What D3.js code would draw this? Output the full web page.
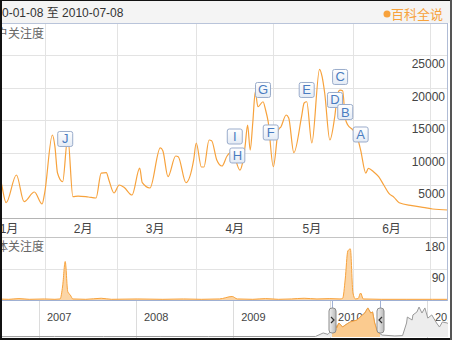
<!DOCTYPE html>
<html lang="zh">
<head>
<meta charset="UTF-8">
<title>百科关注度</title>
<script src="https://cdn.jsdelivr.net/npm/d3@7"></script>
<style>
  body { margin: 0; overflow: hidden; background: #fff; }
  text { font-family: "Liberation Sans", Arial, "Noto Sans CJK SC", sans-serif; }
</style>
</head>
<body>
<svg width="452" height="340"></svg>
<script>
// 用户关注度 (daily points)
const userDates = ["2010-01-08","2010-01-11","2010-01-15","2010-01-17","2010-01-21","2010-01-24","2010-01-28","2010-01-31",
  "2010-02-01","2010-02-04","2010-02-05","2010-02-06","2010-02-08","2010-02-10","2010-02-12","2010-02-14","2010-02-18",
  "2010-02-21","2010-02-23","2010-02-25","2010-02-26","2010-02-28","2010-03-02","2010-03-04","2010-03-07","2010-03-10",
  "2010-03-11","2010-03-14","2010-03-18","2010-03-19","2010-03-21","2010-03-24","2010-03-25","2010-03-28","2010-03-31",
  "2010-04-01","2010-04-03","2010-04-04","2010-04-06","2010-04-07","2010-04-09","2010-04-11","2010-04-13","2010-04-15",
  "2010-04-18","2010-04-19","2010-04-20","2010-04-21","2010-04-22","2010-04-23","2010-04-24","2010-04-25","2010-04-27",
  "2010-04-28","2010-04-29","2010-05-01","2010-05-03","2010-05-04","2010-05-06","2010-05-07","2010-05-09","2010-05-12",
  "2010-05-13","2010-05-14","2010-05-16","2010-05-19","2010-05-20","2010-05-21","2010-05-23","2010-05-25","2010-05-26",
  "2010-05-27","2010-05-28","2010-05-29","2010-05-30","2010-06-01","2010-06-03","2010-06-04","2010-06-06","2010-06-07",
  "2010-06-09","2010-06-11","2010-06-13","2010-06-15","2010-06-17","2010-06-19","2010-06-24","2010-06-29","2010-07-02",
  "2010-07-08"];
const userValues = [4500,8800,5500,2280,6540,2430,3920,2080,
  3770,12690,10900,6840,5500,12380,3200,3300,3150,
  3000,6840,6900,5770,3770,5000,4600,3460,7600,
  5350,4540,10700,10270,6280,9460,9350,5350,8850,
  11460,7770,7770,11920,11820,8850,7920,9460,10120,
  7300,8380,10900,14230,10380,14540,19350,17040,17810,
  16540,14740,7820,13460,13970,15770,15310,9970,15510,
  17620,17810,11460,22800,21660,19150,11920,15770,19000,
  19600,19500,15310,14230,13460,11920,10380,6840,7560,
  7050,6280,5000,3720,3100,2280,1820,1510,1310,
  1150];

// 媒体关注度
const mediaDates = ["2010-01-08","2010-01-13","2010-01-18","2010-01-22","2010-01-26","2010-02-01","2010-02-05","2010-02-07",
  "2010-02-08","2010-02-09","2010-02-10","2010-02-11","2010-02-12","2010-02-17","2010-02-23","2010-02-27","2010-03-09",
  "2010-03-19","2010-03-27","2010-04-03","2010-04-10","2010-04-15","2010-04-17","2010-04-23","2010-04-28","2010-05-03",
  "2010-05-08","2010-05-13","2010-05-18","2010-05-23","2010-05-27","2010-05-28","2010-05-29","2010-05-30","2010-05-31",
  "2010-06-01","2010-06-02","2010-06-03","2010-06-04","2010-06-05","2010-06-12","2010-06-22","2010-07-02","2010-07-08"];
const mediaValues = [2,3,2,4,2,3,2,3,
  40,110,24,14,3,2,5,2,3,
  2,3,2,3,10,3,2,4,2,
  3,5,3,4,3,5,60,140,146,
  20,3,4,20,3,2,2,2,2];

// events (flag letter, date, flag level)
const eventLetters = ["J","I","H","G","F","E","D","C","B","A"];
const eventDates = ["2010-02-09","2010-04-16","2010-04-17","2010-04-27","2010-04-30","2010-05-14","2010-05-25","2010-05-27","2010-05-29","2010-06-04"];
const eventLevels = [12080,12460,9540,19620,13080,19620,18080,21620,16230,12770];

// navigator overview
const navDates = ["2006-08-01","2007-03-01","2007-09-01","2008-04-01","2008-10-01","2009-05-01","2009-11-07","2009-12-06",
  "2009-12-24","2010-01-08","2010-01-19","2010-01-26","2010-02-03","2010-02-17","2010-03-06","2010-03-18","2010-04-13",
  "2010-04-24","2010-05-12","2010-05-23","2010-06-03","2010-06-10","2010-06-18","2010-06-28","2010-07-16","2010-09-02",
  "2010-10-01","2010-10-16","2010-10-19","2010-11-06","2010-11-09","2010-11-24","2010-12-02","2010-12-13","2010-12-24",
  "2011-01-04","2011-01-19","2011-02-06","2011-02-17","2011-02-28","2011-03-18","2011-04-05"];
const navValues = [200,300,250,300,250,300,300,2300,
  1500,4000,8000,5100,8000,5700,7500,8600,9700,
  11400,13700,16600,13700,14300,8000,2900,1100,600,
  800,8000,11400,9700,12600,14300,17100,13700,16600,
  10800,12600,8000,5700,8600,8000,6000];

const yTicks = [5000,10000,15000,20000,25000];
const mediaTicks = [90,180];
const navYears = ["2007","2008","2009","2010","2011"];

const parse = d3.timeParse("%Y-%m-%d");
const fmt = d3.timeFormat("%Y-%m-%d");
const user = userDates.map((d,i)=>({date:parse(d), value:userValues[i]}));
const media = mediaDates.map((d,i)=>({date:parse(d), value:mediaValues[i]}));
const nav = navDates.map((d,i)=>({date:parse(d), value:navValues[i]}));
const events = eventLetters.map((l,i)=>({letter:l, date:parse(eventDates[i]), level:eventLevels[i]}));

const W = 452, H = 340;
const plotRight = 447.5;
const orange = "#f7a23c";
const gridCol = "#e3e3e3";
const blueLine = "#9fb0d3";

const start = parse(userDates[0]), end = parse(userDates[userDates.length-1]);
const x = d3.scaleTime().domain([start,end]).range([-17, 448]);
const y = d3.scaleLinear().domain([0,30000]).range([217.5, 22.5]);
const y2 = d3.scaleLinear().domain([0,180]).range([300, 237]);
const xNav = d3.scaleTime().domain([parse("2007-01-01"), parse("2011-01-01")]).range([39, 427]);
const yNav = d3.scaleLinear().domain([0,20000]).range([337, 302]);

const svg = d3.select("svg");
const defs = svg.append("defs");
defs.append("clipPath").attr("id","clipMain").append("rect")
    .attr("x",0).attr("y",23).attr("width",plotRight).attr("height",y(0)-23);
defs.append("clipPath").attr("id","clipMedia").append("rect")
    .attr("x",0).attr("y",238).attr("width",plotRight).attr("height",62);
defs.append("clipPath").attr("id","clipNav").append("rect")
    .attr("x",0).attr("y",300).attr("width",448).attr("height",38);
defs.append("clipPath").attr("id","clipSel").append("rect")
    .attr("x",xNav(start)).attr("y",300).attr("width",xNav(end)-xNav(start)).attr("height",38);
const hg = defs.append("linearGradient").attr("id","handleGrad");
hg.append("stop").attr("offset","0").attr("stop-color","#f2f2f2");
hg.append("stop").attr("offset","1").attr("stop-color","#b9b9b9");
const fg = defs.append("linearGradient").attr("id","flagGrad").attr("x1",0).attr("x2",0).attr("y1",0).attr("y2",1);
fg.append("stop").attr("offset","0").attr("stop-color","#ffffff");
fg.append("stop").attr("offset","1").attr("stop-color","#e4ebf5");

// header
svg.append("rect").attr("x",0).attr("y",0).attr("width",W).attr("height",23).attr("fill","#f4f4f4");
svg.append("text").attr("x",x.range()[0]-1).attr("y",17).attr("font-size",12).attr("fill","#333")
    .text(fmt(start)+" 至 "+fmt(end));
svg.append("circle").attr("cx",387).attr("cy",14).attr("r",3.5).attr("fill",orange);
svg.append("text").attr("x",391).attr("y",19).attr("font-size",13).attr("fill",orange).text("百科全说");
svg.append("line").attr("x1",0).attr("x2",plotRight).attr("y1",23.5).attr("y2",23.5).attr("stroke","#b9c4da");

// grid
const months = d3.timeMonth.range(d3.timeMonth.ceil(start), end);
svg.append("g").selectAll("line").data(months).join("line")
    .attr("x1",d=>Math.round(x(d))+0.5).attr("x2",d=>Math.round(x(d))+0.5)
    .attr("y1",24).attr("y2",300).attr("stroke",gridCol);
svg.append("g").selectAll("line").data(yTicks).join("line")
    .attr("x1",0).attr("x2",plotRight).attr("y1",d=>Math.round(y(d))+0.5).attr("y2",d=>Math.round(y(d))+0.5)
    .attr("stroke",gridCol);
svg.append("g").selectAll("text").data(yTicks).join("text")
    .attr("x",445).attr("y",d=>y(d)+13).attr("text-anchor","end").attr("font-size",12).attr("fill","#444")
    .text(d=>d);
svg.append("line").attr("x1",0).attr("x2",plotRight).attr("y1",Math.round(y(0))+0.5).attr("y2",Math.round(y(0))+0.5)
    .attr("stroke","#b4b4b4");
svg.append("line").attr("x1",0).attr("x2",plotRight).attr("y1",237.5).attr("y2",237.5).attr("stroke","#c4c4c4");

// month labels, centred in each month
const monthStarts = d3.timeMonth.range(d3.timeMonth.floor(start), end);
svg.append("g").selectAll("text").data(monthStarts).join("text")
    .attr("x",d=>Math.max(x(d3.timeDay.offset(d,15)), 9))
    .attr("y",233).attr("text-anchor","middle").attr("font-size",12).attr("fill","#444")
    .text(d=>(d.getMonth()+1)+"月");

svg.append("text").attr("x",x.range()[0]+1).attr("y",38).attr("font-size",12).attr("fill","#666").text("用户关注度");

// main line
svg.append("path").datum(user).attr("clip-path","url(#clipMain)")
    .attr("d",d3.line().x(d=>x(d.date)).y(d=>y(d.value)).curve(d3.curveMonotoneX))
    .attr("fill","none").attr("stroke",orange).attr("stroke-width",1.2);

// event flags
const flags = svg.append("g").selectAll("g").data(events).join("g")
    .attr("transform",d=>`translate(${x(d.date)},${y(d.level)})`);
flags.append("rect").attr("x",-7.5).attr("y",-7.5).attr("width",15).attr("height",15).attr("rx",2)
    .attr("fill","url(#flagGrad)").attr("stroke","#9aaccb");
flags.append("text").attr("y",4.5).attr("text-anchor","middle").attr("font-size",13).attr("fill","#4a7cc0")
    .text(d=>d.letter);

// media panel
svg.append("g").selectAll("line").data(mediaTicks.slice(0,-1)).join("line")
    .attr("x1",0).attr("x2",plotRight).attr("y1",d=>Math.round(y2(d))+0.5).attr("y2",d=>Math.round(y2(d))+0.5)
    .attr("stroke",gridCol);
svg.append("g").selectAll("text").data(mediaTicks).join("text")
    .attr("x",445).attr("y",d=>Math.max(y2(d),238)+13).attr("text-anchor","end").attr("font-size",12).attr("fill","#444")
    .text(d=>d);
svg.append("text").attr("x",x.range()[0]+1).attr("y",251).attr("font-size",12).attr("fill","#666").text("媒体关注度");
const mediaG = svg.append("g").attr("clip-path","url(#clipMedia)");
mediaG.append("path").datum(media)
    .attr("d",d3.area().x(d=>x(d.date)).y0(y2(0)).y1(d=>y2(d.value)).curve(d3.curveMonotoneX))
    .attr("fill","#fbd5a6");
mediaG.append("path").datum(media)
    .attr("d",d3.line().x(d=>x(d.date)).y(d=>y2(d.value)).curve(d3.curveMonotoneX))
    .attr("fill","none").attr("stroke",orange).attr("stroke-width",1);
svg.append("line").attr("x1",0).attr("x2",plotRight).attr("y1",300.5).attr("y2",300.5).attr("stroke",blueLine);
svg.append("line").attr("x1",plotRight).attr("x2",plotRight).attr("y1",23).attr("y2",301).attr("stroke","#b0bcd6");

// navigator
const navG = svg.append("g").attr("clip-path","url(#clipNav)");
const yearDates = navYears.map(d=>parse(d+"-01-01"));
navG.selectAll("line.yr").data(yearDates).join("line").attr("class","yr")
    .attr("x1",d=>Math.round(xNav(d))+0.5).attr("x2",d=>Math.round(xNav(d))+0.5)
    .attr("y1",301).attr("y2",338).attr("stroke","#dcdcdc");
navG.selectAll("text").data(yearDates).join("text")
    .attr("x",d=>xNav(d)+8).attr("y",321).attr("font-size",11).attr("fill","#444")
    .text(d=>d.getFullYear());
const navArea = d3.area().x(d=>xNav(d.date)).y0(yNav(0)).y1(d=>yNav(d.value));
const navLine = d3.line().x(d=>xNav(d.date)).y(d=>yNav(d.value));
navG.append("path").datum(nav).attr("d",navArea).attr("fill","#ededed");
navG.append("path").datum(nav).attr("d",navLine).attr("fill","none").attr("stroke","#9a9a9a");
const selG = navG.append("g").attr("clip-path","url(#clipSel)");
selG.append("path").datum(nav).attr("d",navArea).attr("fill","#fbcb8f");
selG.append("path").datum(nav).attr("d",navLine).attr("fill","none").attr("stroke",orange);

// selection handles
const handles = svg.append("g").selectAll("g").data([start,end]).join("g")
    .attr("transform",d=>`translate(${Math.round(xNav(d))+0.5},0)`);
handles.append("line").attr("y1",300).attr("y2",309).attr("stroke",blueLine);
handles.append("rect").attr("x",-3.5).attr("y",308).attr("width",7).attr("height",25).attr("rx",3)
    .attr("fill","url(#handleGrad)").attr("stroke","#8c8c8c");
handles.append("path")
    .attr("d",(d,i)=>i===0 ? "M-1.5,317 L1.5,320 L-1.5,323" : "M1.5,317 L-1.5,320 L1.5,323")
    .attr("fill","none").attr("stroke","#333").attr("stroke-width",1.2);

// outer frame
svg.append("rect").attr("x",0).attr("y",0).attr("width",2).attr("height",H).attr("fill","#111");
svg.append("rect").attr("x",0).attr("y",0).attr("width",W).attr("height",1).attr("fill","#111");
svg.append("rect").attr("x",0).attr("y",338).attr("width",W).attr("height",2).attr("fill","#111");
svg.append("rect").attr("x",450).attr("y",0).attr("width",2).attr("height",H).attr("fill","#555");
</script>
</body>
</html>
